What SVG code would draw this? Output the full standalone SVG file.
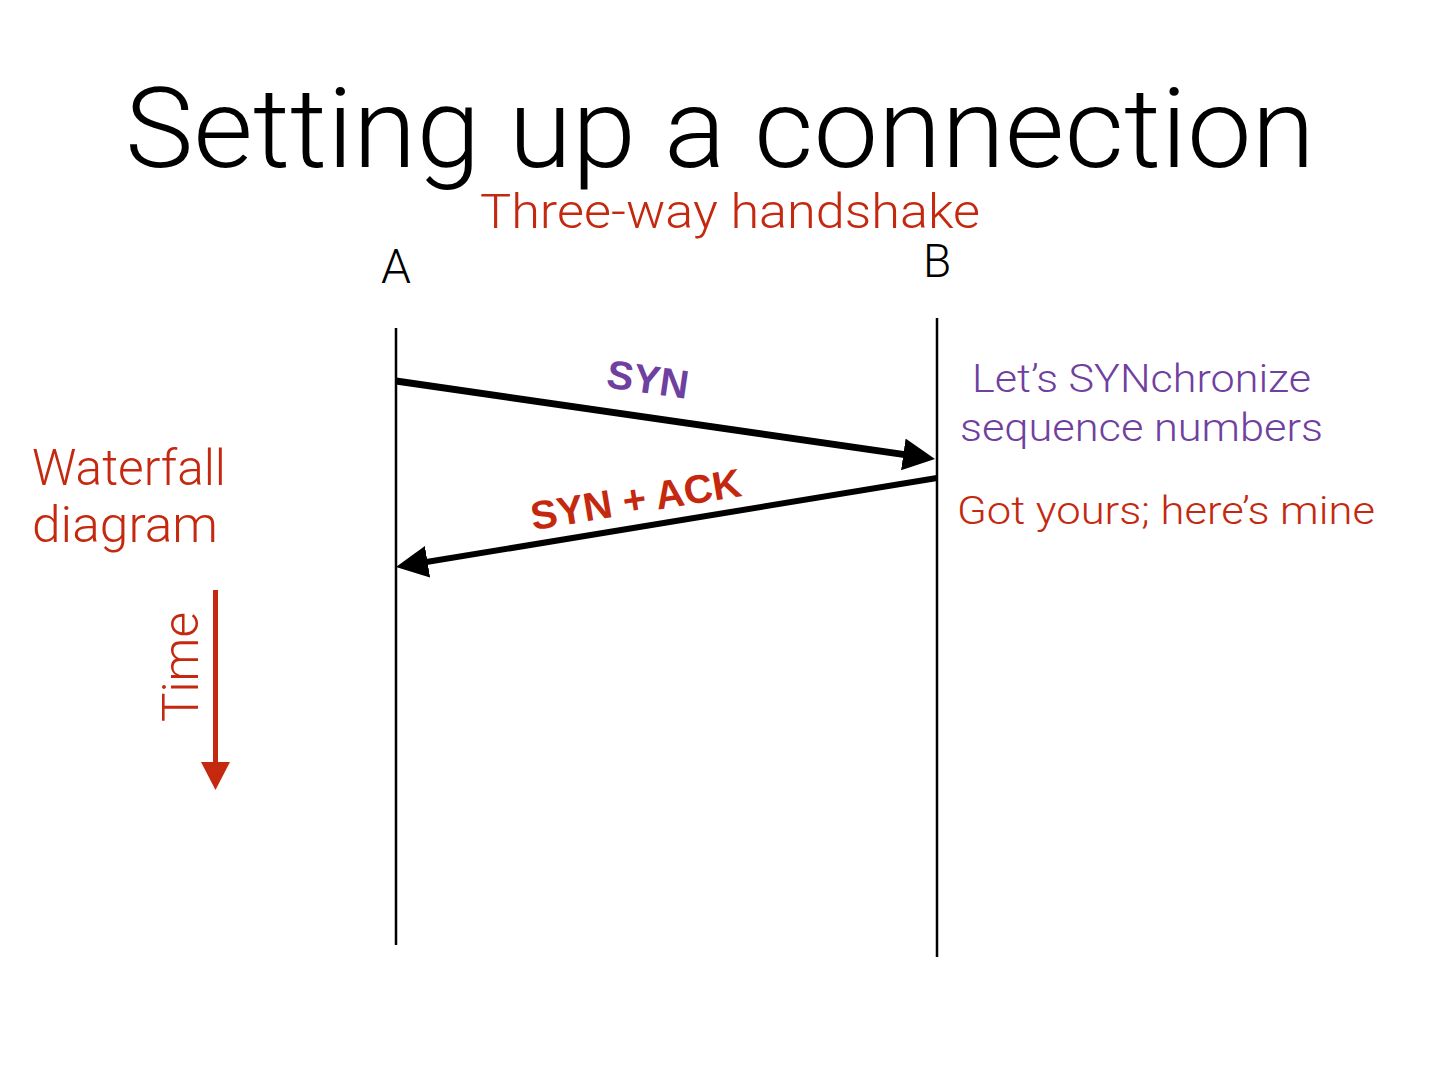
<svg xmlns="http://www.w3.org/2000/svg" width="1440" height="1080" viewBox="0 0 1440 1080">
<style>
text{font-family:Roboto,"Liberation Sans",Arial,sans-serif;font-weight:300}
.red{fill:#C4290F}
.pur{fill:#7040A0}
.bold{font-family:"Liberation Sans",Arial,sans-serif;font-weight:700}
.life{stroke:#000;stroke-width:2.5;fill:none}
.msg{stroke:#000;fill:none}
</style>
<defs>
<marker id="ah" markerUnits="userSpaceOnUse" markerWidth="34" markerHeight="34" refX="12" refY="16" orient="auto" viewBox="0 0 34 34">
<path d="M0,0 L32,16 L0,32 z" fill="#000"/>
</marker>
</defs>
<rect width="1440" height="1080" fill="#fff"/>
<text x="720" y="167" font-size="112" text-anchor="middle" textLength="1190" lengthAdjust="spacingAndGlyphs">Setting up a connection</text>
<text class="red" x="730" y="228" font-size="48" text-anchor="middle" textLength="500" lengthAdjust="spacingAndGlyphs">Three-way handshake</text>
<g id="nodeA">
<text x="396" y="283" font-size="48" text-anchor="middle">A</text>
<line class="life" x1="396" y1="328" x2="396" y2="945"/>
</g>
<g id="nodeB">
<text x="937" y="277" font-size="46" text-anchor="middle">B</text>
<line class="life" x1="937" y1="318" x2="937" y2="957"/>
</g>
<g id="connectors">
<line class="msg" stroke-width="7" x1="396" y1="381" x2="915.2" y2="456.1" marker-end="url(#ah)"/>
<line class="msg" stroke-width="6" x1="937" y1="478" x2="415.7" y2="563.8" marker-end="url(#ah)"/>
</g>
<text class="pur bold" font-size="40" text-anchor="middle" transform="translate(646,393) rotate(8.2)">SYN</text>
<text class="red bold" font-size="40" text-anchor="middle" transform="translate(638,513) rotate(-9.3)">SYN + ACK</text>
<g id="notes">
<text class="pur" x="972" y="392" font-size="38" textLength="339" lengthAdjust="spacingAndGlyphs">Let’s SYNchronize</text>
<text class="pur" x="960" y="441" font-size="38" textLength="363" lengthAdjust="spacingAndGlyphs">sequence numbers</text>
<text class="red" x="957" y="524" font-size="38" textLength="418" lengthAdjust="spacingAndGlyphs">Got yours; here’s mine</text>
</g>
<g id="waterfall">
<text class="red" x="32" y="485" font-size="50" textLength="194" lengthAdjust="spacingAndGlyphs">Waterfall</text>
<text class="red" x="32" y="542" font-size="50" textLength="186" lengthAdjust="spacingAndGlyphs">diagram</text>
</g>
<g id="time">
<text class="red" font-size="50" text-anchor="middle" transform="translate(198,667) rotate(-90)" textLength="110" lengthAdjust="spacingAndGlyphs">Time</text>
<line x1="215.5" y1="590" x2="215.5" y2="765" stroke="#C4290F" stroke-width="5"/>
<polygon points="201,762 230,762 215.5,790" fill="#C4290F"/>
</g>
</svg>
